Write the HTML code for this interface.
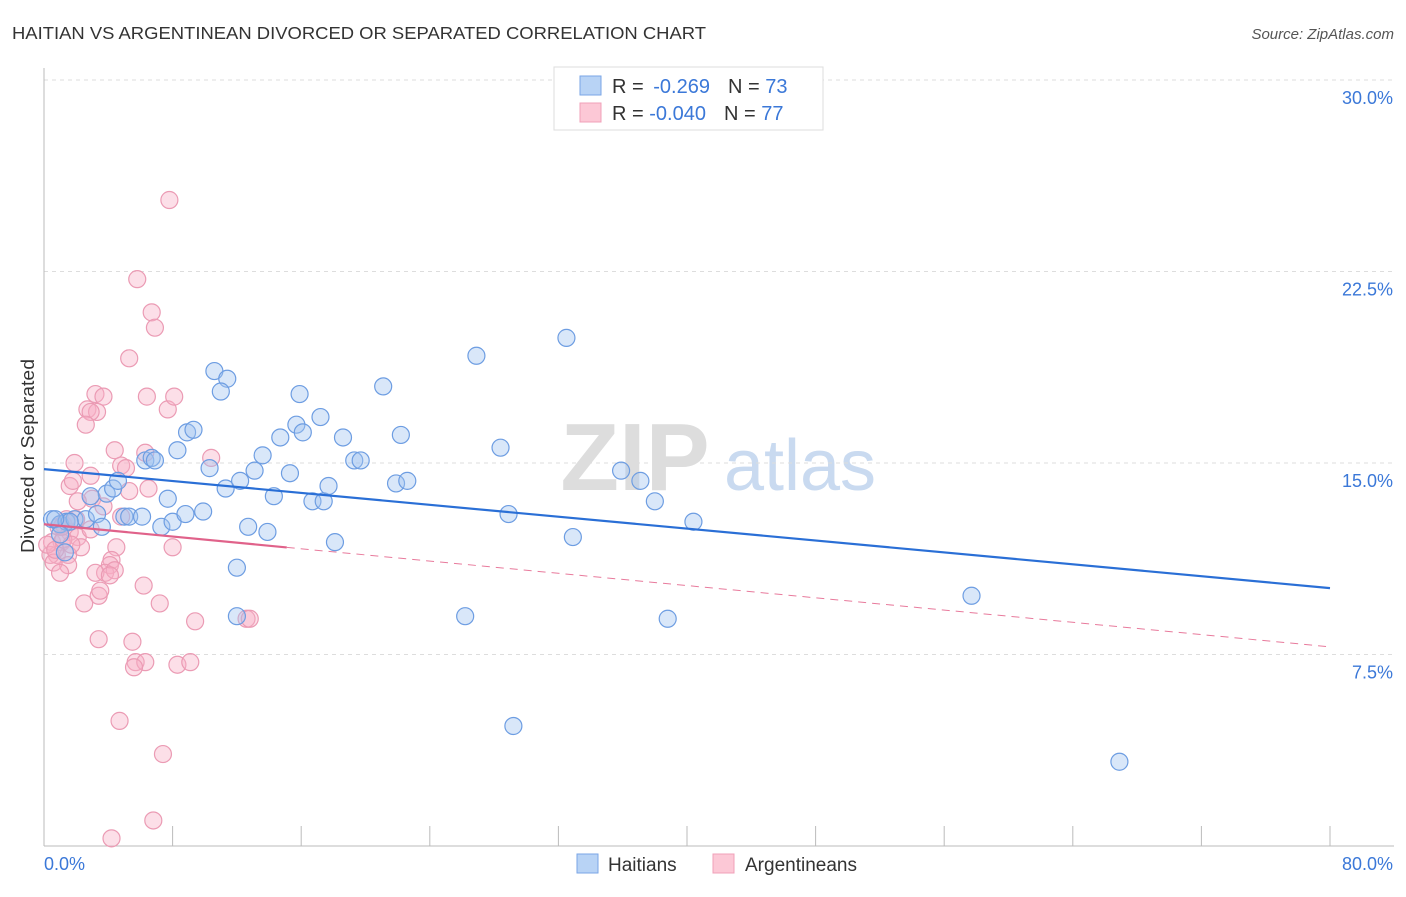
<!DOCTYPE html>
<html><head><meta charset="utf-8"><style>
body{margin:0;background:#fff;font-family:"Liberation Sans",sans-serif;}
svg text{font-family:"Liberation Sans",sans-serif;}
</style></head><body>
<svg id="chart" width="1406" height="892" viewBox="0 0 1406 892" xmlns="http://www.w3.org/2000/svg">
<text x="12" y="39" font-size="17.5" fill="#333" textLength="694" lengthAdjust="spacingAndGlyphs">HAITIAN VS ARGENTINEAN DIVORCED OR SEPARATED CORRELATION CHART</text>
<text x="1394" y="39" font-size="15" fill="#555" text-anchor="end" font-style="italic">Source: ZipAtlas.com</text>
<text transform="translate(34,456) rotate(-90)" font-size="18" fill="#333" text-anchor="middle" textLength="194" lengthAdjust="spacingAndGlyphs">Divorced or Separated</text>
<g>
<text x="635" y="490" font-size="96" fill="#ddd" text-anchor="middle" font-family="Liberation Serif" font-weight="bold">ZIP</text>
<text x="800" y="490" font-size="72" fill="#c9daf0" text-anchor="middle">atlas</text>
</g>
<g id="grid"></g><g id="axes"></g><g id="pts"></g><g id="trends"></g>
<g>
<rect x="554" y="67" width="269" height="63" fill="#fff" stroke="#ddd"/>
<rect x="580" y="76" width="21" height="19" fill="#b8d3f5" stroke="#7aa6e6"/>
<rect x="580" y="103" width="21" height="19" fill="#fcc8d6" stroke="#f0a0b8"/>
<text x="612" y="93" font-size="20" fill="#333">R = <tspan fill="#3b78d8" dx="4">-0.269</tspan><tspan dx="18">N = </tspan><tspan fill="#3b78d8">73</tspan></text>
<text x="612" y="120" font-size="20" fill="#333">R = <tspan fill="#3b78d8">-0.040</tspan><tspan dx="18">N = </tspan><tspan fill="#3b78d8">77</tspan></text>
</g>
<g>
<rect x="577" y="854" width="21" height="19" fill="#b8d3f5" stroke="#7aa6e6"/>
<text x="608" y="871" font-size="19" fill="#333">Haitians</text>
<rect x="713" y="854" width="21" height="19" fill="#fcc8d6" stroke="#f0a0b8"/>
<text x="745" y="871" font-size="19" fill="#333">Argentineans</text>
</g>
</svg>
<script>
const yTicks=[7.5,15,22.5,30];
const yTickLabels=["7.5%","15.0%","22.5%","30.0%"];
const xEndLabels=["0.0%","80.0%"];
const blueX=[0.5,1.0,1.4,1.9,2.6,3.3,3.6,3.9,4.3,4.6,5.0,5.3,6.1,6.3,6.7,6.9,7.3,7.7,8.0,8.3,8.8,8.9,9.3,9.9,10.3,10.6,11.3,11.4,11.0,12.0,12.0,12.2,12.7,13.1,13.6,13.9,14.3,14.7,15.3,15.7,15.9,16.1,16.7,17.2,17.4,17.7,18.1,18.6,19.3,19.7,21.1,21.9,22.2,22.6,26.2,26.9,28.4,28.9,29.2,32.5,32.9,35.9,37.1,38.0,38.8,40.4,57.7,66.9,2.9,1.6,0.7,1.3,1.0];
const blueY=[12.8,12.6,12.7,12.8,12.8,13.0,12.5,13.8,14.0,14.3,12.9,12.9,12.9,15.1,15.2,15.1,12.5,13.6,12.7,15.5,13.0,16.2,16.3,13.1,14.8,18.6,14.0,18.3,17.8,9.0,10.9,14.3,12.5,14.7,15.3,12.3,13.7,16.0,14.6,16.5,17.7,16.2,13.5,16.8,13.5,14.1,11.9,16.0,15.1,15.1,18.0,14.2,16.1,14.3,9.0,19.2,15.6,13.0,4.7,19.9,12.1,14.7,14.3,13.5,8.9,12.7,9.8,3.3,13.7,12.7,12.8,11.5,12.2];
const pinkX=[7.8,5.8,6.7,6.9,5.3,3.2,3.7,2.7,3.3,2.9,2.6,7.7,8.1,6.4,4.4,6.3,10.4,1.9,4.8,5.1,2.9,1.6,1.8,5.3,6.5,3.0,2.1,3.7,4.8,1.2,0.9,1.6,2.1,0.5,1.1,2.3,4.5,8.0,0.8,0.4,1.5,1.5,0.6,4.2,4.1,1.0,3.8,3.2,4.4,6.2,3.4,2.5,7.2,9.4,12.6,12.8,3.4,5.5,5.7,6.3,5.6,8.3,9.1,4.7,7.4,6.8,4.2,0.2,0.7,1.2,1.7,1.1,2.0,2.9,3.5,4.1,1.4];
const pinkY=[25.3,22.2,20.9,20.3,19.1,17.7,17.6,17.1,17.0,17.0,16.5,17.1,17.6,17.6,15.5,15.4,15.2,15.0,14.9,14.8,14.5,14.1,14.3,13.9,14.0,13.6,13.5,13.3,12.9,12.6,12.5,12.3,12.1,11.9,11.9,11.7,11.7,11.7,11.4,11.4,11.4,11.0,11.1,11.2,11.0,10.7,10.7,10.7,10.8,10.2,9.8,9.5,9.5,8.8,8.9,8.9,8.1,8.0,7.2,7.2,7.0,7.1,7.2,4.9,3.6,1.0,0.3,11.8,11.6,12.0,11.8,12.5,12.8,12.4,10.0,10.6,12.8];
const blueTrend=[14.76,10.1];
const pinkTrend=[12.6,7.8];
const pinkSolidEnd=15.1;

const NS="http://www.w3.org/2000/svg";
const X0=44,X1=1330,Y0=846,YPX=191.5/7.5;
const sx=v=>X0+(v/80)*(X1-X0);
const sy=v=>Y0-v*YPX;
function mk(tag,attrs,parent){const e=document.createElementNS(NS,tag);for(const k in attrs)e.setAttribute(k,attrs[k]);document.getElementById(parent).appendChild(e);return e;}

yTicks.forEach((t,i)=>{
  const g=mk('line',{x1:X0,x2:1394,y1:sy(t),y2:sy(t),stroke:'#ddd','stroke-dasharray':'4,4'},'grid');
  
  
  const l=mk('text',{x:1393,y:sy(t)+24,'font-size':18,fill:'#3b78d8','text-anchor':'end'},'grid');
  l.textContent=yTickLabels[i];
  
  
});
const ya=mk('line',{x1:X0,x2:X0,y1:68,y2:Y0,stroke:'#bbb'},'axes');


const xa=mk('line',{x1:X0,x2:1394,y1:Y0,y2:Y0,stroke:'#bbb'},'axes');


for(let k=1;k<=10;k++){
  const t=mk('line',{x1:sx(k*8),x2:sx(k*8),y1:Y0-20,y2:Y0,stroke:'#bbb'},'axes');
  
  
}
const xl0=mk('text',{x:44,y:870,'font-size':18,fill:'#3b78d8'},'axes');
xl0.textContent=xEndLabels[0];


const xl1=mk('text',{x:1393,y:870,'font-size':18,fill:'#3b78d8','text-anchor':'end'},'axes');
xl1.textContent=xEndLabels[1];



pinkX.forEach((v,i)=>{
  const c=mk('circle',{cx:sx(v),cy:sy(pinkY[i]),r:8.5,fill:'rgba(248,176,198,0.4)',stroke:'#eb9bb4','stroke-width':1.2},'pts');
  
  
});
blueX.forEach((v,i)=>{
  const c=mk('circle',{cx:sx(v),cy:sy(blueY[i]),r:8.5,fill:'rgba(160,196,240,0.4)',stroke:'#6d9de2','stroke-width':1.2},'pts');
  
  
});
const bt=mk('line',{x1:sx(0),y1:sy(blueTrend[0]),x2:sx(80),y2:sy(blueTrend[1]),stroke:'#2a6fd6','stroke-width':2.2},'trends');


const pAt=x=>pinkTrend[0]+(pinkTrend[1]-pinkTrend[0])*x/80;
const pd=mk('line',{x1:sx(pinkSolidEnd),y1:sy(pAt(pinkSolidEnd)),x2:sx(80),y2:sy(pinkTrend[1]),stroke:'#e87a9c','stroke-width':1,'stroke-dasharray':'8,6'},'trends');


const ps=mk('line',{x1:sx(0),y1:sy(pinkTrend[0]),x2:sx(pinkSolidEnd),y2:sy(pAt(pinkSolidEnd)),stroke:'#e0628a','stroke-width':2.2},'trends');


</script>
</body></html>
